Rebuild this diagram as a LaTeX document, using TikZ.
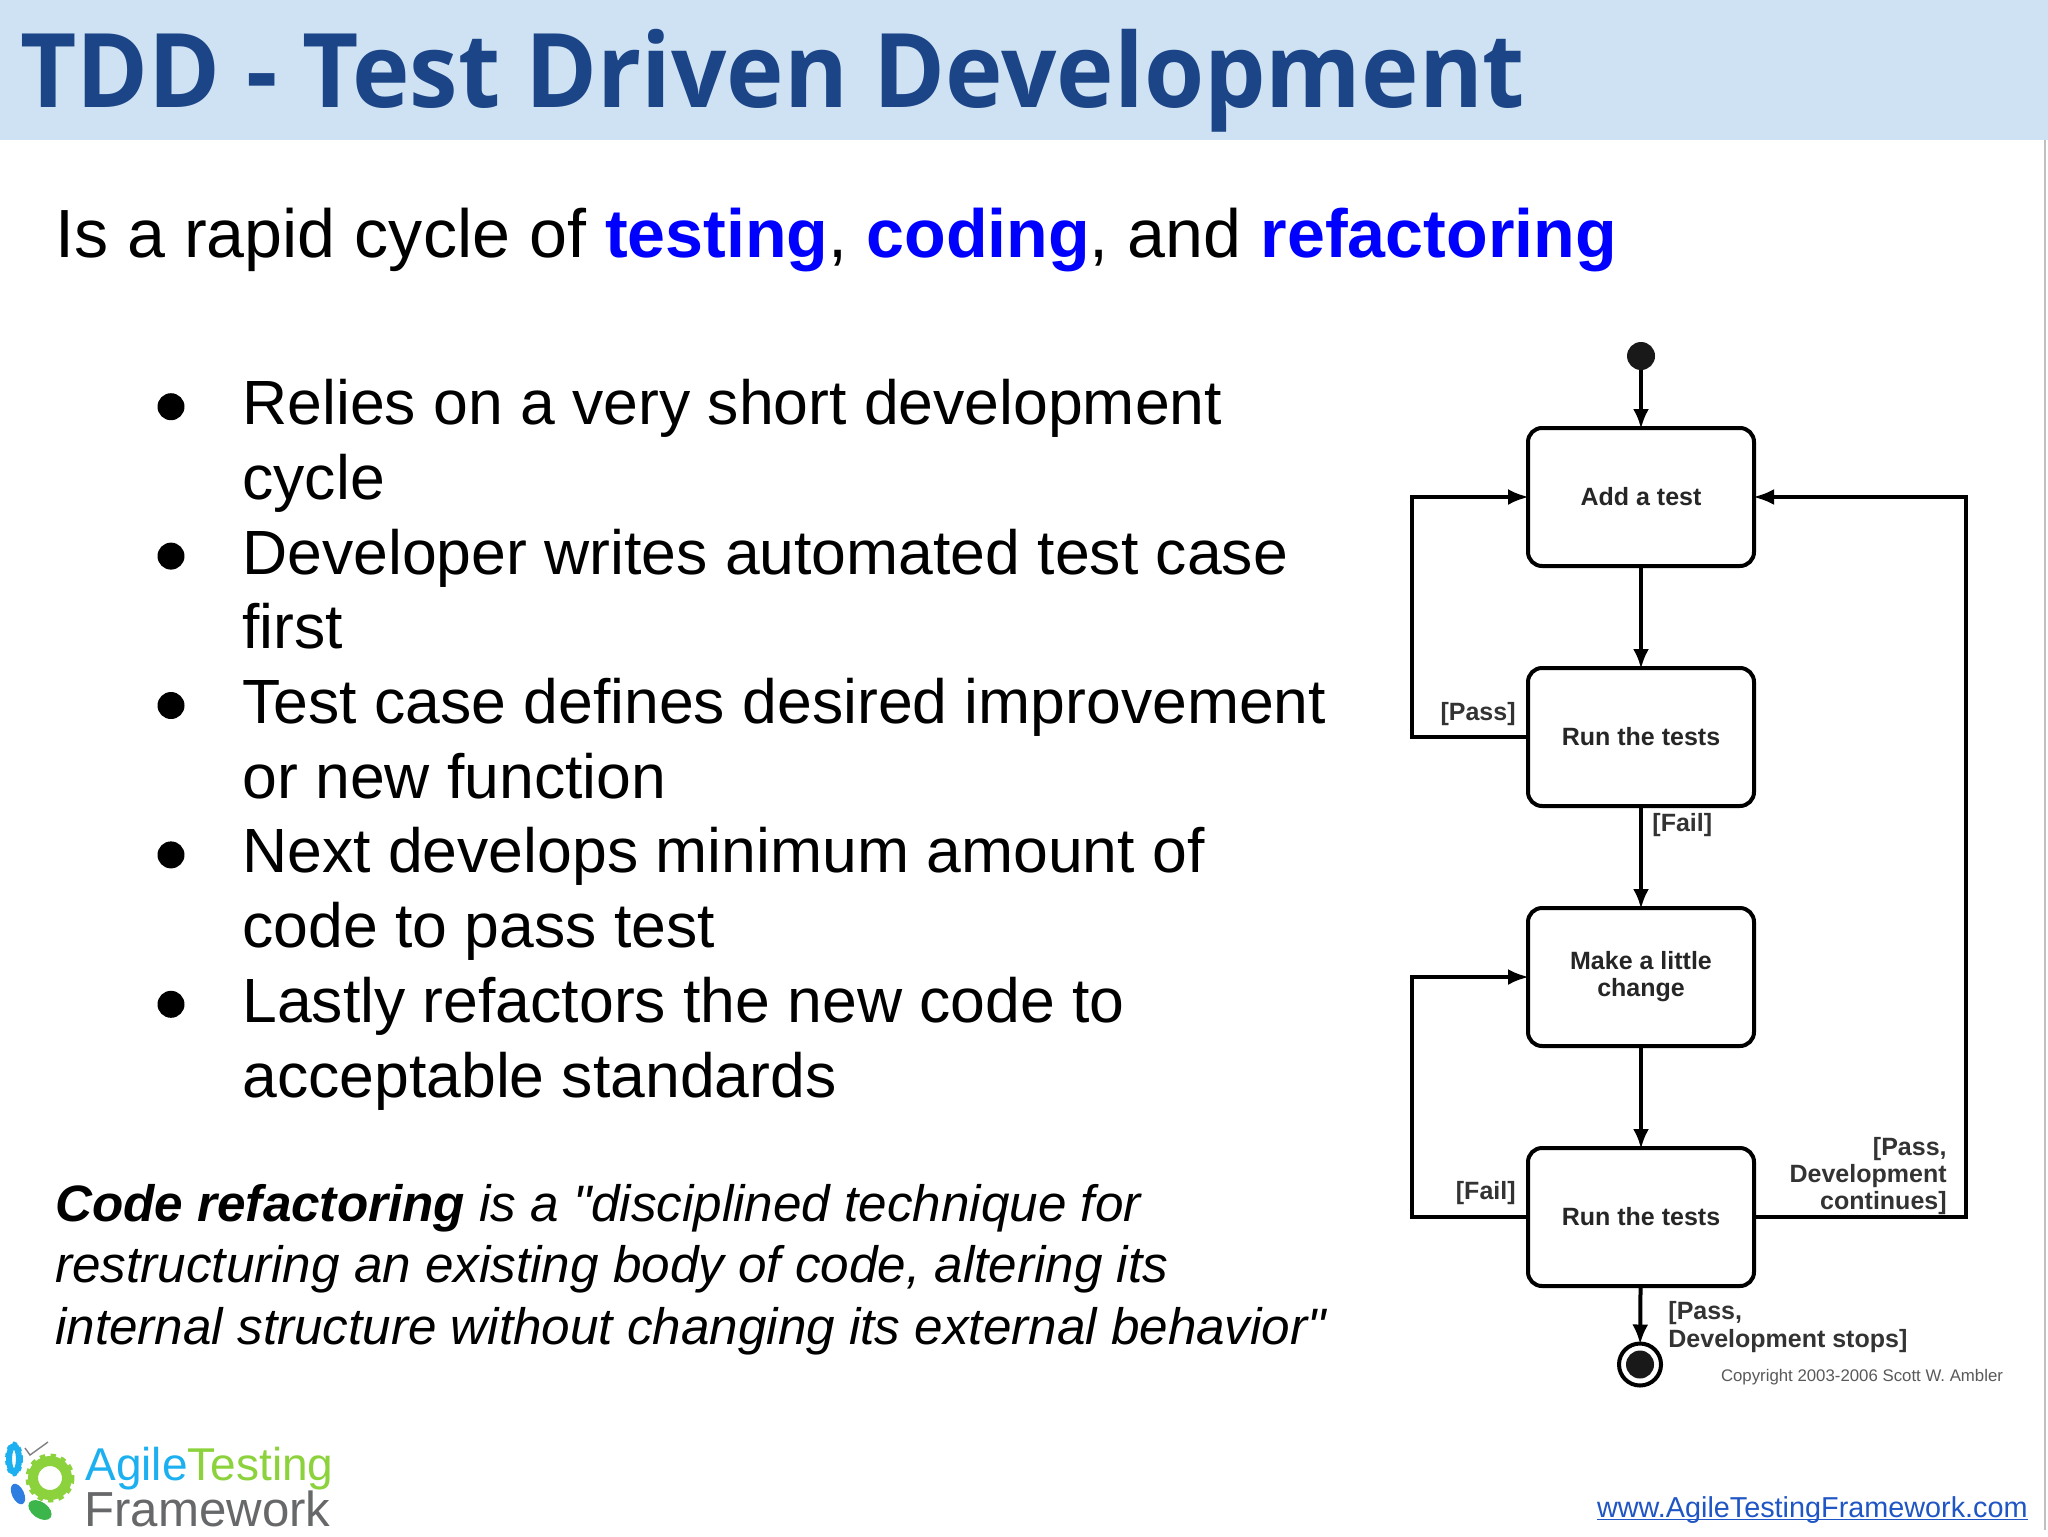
\documentclass[tikz,border=0pt]{standalone}
\usepackage{fontspec}
\setmainfont{Liberation Sans}
\newfontfamily\titlefont[FakeStretch=0.945]{Open Sans}
\newfontfamily\notefont{Liberation Sans}
\usetikzlibrary{arrows.meta}
\definecolor{headerblue}{HTML}{CFE2F3}
\definecolor{titleblue}{HTML}{1C4587}
\definecolor{linkblue}{HTML}{1F55C4}
\definecolor{logocyan}{HTML}{1CB0F0}
\definecolor{logogreen}{HTML}{8CD23C}
\definecolor{logogrey}{HTML}{66686A}
\definecolor{logoblue}{HTML}{2E7DE0}
\definecolor{logoteal}{HTML}{3CB54A}
\tikzset{
  body/.style={anchor=base west,inner sep=0pt,font=\fontsize{31.25}{37.35}\selectfont,align=left},
  note/.style={anchor=base west,inner sep=0pt,font=\fontsize{25.6}{30.8}\selectfont\notefont\itshape},
  state/.style={draw,line width=2pt,rounded corners=7pt,minimum width=113pt,minimum height=69pt,
    fill=white,align=center,text=black!85,font=\fontsize{12.5}{13.5}\selectfont\bfseries},
  guard/.style={inner sep=0pt,text=black!80,align=left,font=\fontsize{12.5}{13.7}\selectfont\bfseries},
  flow/.style={line width=2pt,shorten >=-1.5pt,-{Latex[length=10pt,width=8pt]}},
  loop/.style={line width=2pt,line join=miter,shorten >=-1.5pt,-{Latex[length=10.5pt,width=8pt]}},
  tick/.style={circle,fill=black,inner sep=0pt,minimum size=13.5pt},
  blob/.style={circle,fill=black!90,inner sep=0pt,minimum size=14pt},
}
\begin{document}
\begin{tikzpicture}[x=0.5pt,y=-0.5pt]
\useasboundingbox (0,0) rectangle (2048,1536);
\fill[white] (0,0) rectangle (2048,1536);
\fill[headerblue] (0,0) rectangle (2048,140);
\draw[black!25,line width=0.8pt] (2045,140) -- (2045,1530);

\node[anchor=base west,inner sep=0pt,text=titleblue,font=\fontsize{51.5}{56}\selectfont\titlefont\bfseries] (title) at (20,107) {TDD - Test Driven Development};
\node[anchor=base west,inner sep=0pt,font=\fontsize{34.1}{37}\selectfont] (cycle) at (55,257.5)
  {Is a rapid cycle of \textcolor{blue}{\textbf{testing}}, \textcolor{blue}{\textbf{coding}}, and \textcolor{blue}{\textbf{refactoring}}};

% bullets
\foreach \n/\yy/\first/\second in {
  a/424.7/Relies on a very short development/cycle,
  b/574.1/Developer writes automated test case/first,
  c/723.5/Test case defines desired improvement/or new function,
  d/872.9/Next develops minimum amount of/code to pass test,
  e/1022.3/Lastly refactors the new code to/acceptable standards}
{
  \node[tick] (dot\n) at (171,\yy-18) {};
  \node[body] (first\n) at (242,\yy) {\first};
  \node[body] (second\n) at (242,\yy+74.7) {\second};
}

\node[note] (notea) at (55,1221) {\textbf{Code refactoring} is a "disciplined technique for};
\node[note] (noteb) at (55,1282.5) {restructuring an existing body of code, altering its};
\node[note] (notec) at (55,1344) {internal structure without changing its external behavior"};

% state chart
\node[blob] (start) at (1641,356) {};
\node[state] (add) at (1641,497) {Add a test};
\node[state] (runa) at (1641,737) {Run the tests};
\node[state] (change) at (1641,977) {Make a little\\change};
\node[state] (runb) at (1641,1217) {Run the tests};
\node[circle,draw,line width=2pt,fill=white,inner sep=0pt,minimum size=21pt] (finish) at (1640,1364.5) {};
\node[blob] (finishdot) at (1640,1364.5) {};

\coordinate (lside) at (1412,0);
\coordinate (rside) at (1966,0);

\draw[flow] (start) -- (add);
\draw[flow] (add) -- (runa);
\draw[flow] (runa) -- (change);
\draw[flow] (change) -- (runb);
\draw[flow] (runb) -- (finish);
\draw[loop] (runa.west) -- (runa.west -| lside) -- (add.west -| lside) -- (add.west);
\draw[loop] (runb.west) -- (runb.west -| lside) -- (change.west -| lside) -- (change.west);
\draw[loop] (runb.east) -- (runb.east -| rside) -- (add.east -| rside) -- (add.east);

\node[guard,anchor=east] (pass) at (1516,714) {[Pass]};
\node[guard,anchor=west] (fail) at (1652,825) {[Fail]};
\node[guard,anchor=east] (failb) at (1516,1193) {[Fail]};
\node[guard,anchor=east,align=right] (passb) at (1947,1176) {[Pass,\\Development\\continues]};
\node[guard,anchor=west] (passc) at (1668,1327) {[Pass,\\Development stops]};
\node[inner sep=0pt,text=black!65,font=\fontsize{8.4}{9}\selectfont] (copyright) at (1862,1377) {Copyright 2003-2006 Scott W. Ambler};

\node[anchor=base east,inner sep=0pt,text=linkblue,font=\fontsize{14.4}{16}\selectfont] (url) at (2028,1517) {\underline{\smash{www.AgileTestingFramework.com}}};

% logo
\node[anchor=base west,inner sep=0pt,font=\fontsize{23}{25}\selectfont] (agile) at (85,1480) {\textcolor{logocyan}{Agile}\textcolor{logogreen}{Testing}};
\node[anchor=base west,inner sep=0pt,text=logogrey,font=\fontsize{24.6}{26}\selectfont] (framework) at (84,1526) {Framework};
\draw[logogreen,line width=5pt] (50,1478) circle (17);
\draw[logogreen,line width=2.5pt,dash pattern=on 2.6pt off 2.6pt] (50,1478) circle (22);
\draw[logocyan,line width=3pt] (14,1459) ellipse (5 and 13);
\draw[logocyan,line width=1.4pt,dash pattern=on 2pt off 2pt] (14,1459) ellipse (7.5 and 16);
\fill[logoblue,rotate around={25:(18,1494)}] (18,1494) ellipse (6 and 11);
\fill[logoteal,rotate around={-35:(40,1510)}] (40,1510) ellipse (13 and 8);
\draw[black!50,line width=0.7pt] (25,1448) -- (30,1455) -- (48,1442);
\end{tikzpicture}
\end{document}
